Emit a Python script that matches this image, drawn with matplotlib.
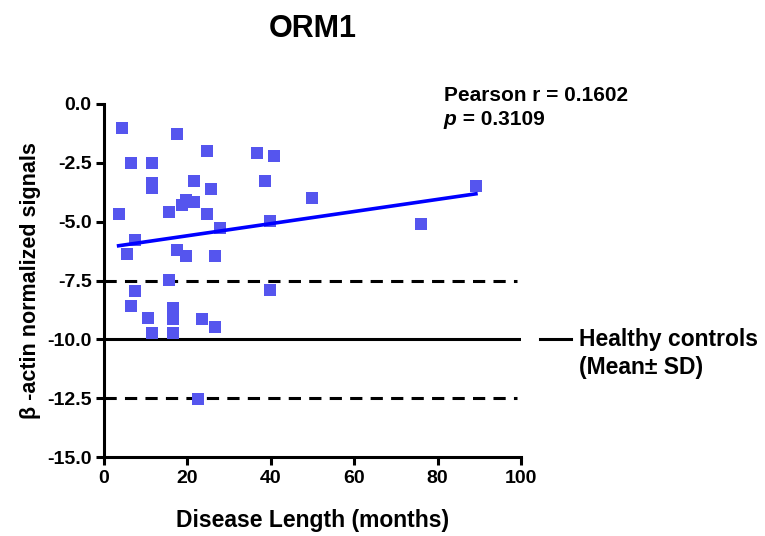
# ORM1 vs. disease length, scatter with linear fit and healthy-control band
import matplotlib.pyplot as plt
import numpy as np

# Disease length (months) and beta-actin normalized signals for each patient
months = [4.4, 17.5, 24.6, 36.7, 40.8, 6.4, 11.6, 21.6, 11.6, 11.6,
          38.7, 25.7, 49.8, 19.6, 18.6, 21.6, 3.5, 15.6, 24.6, 39.8,
          27.7, 7.5, 5.5, 17.5, 19.6, 26.7, 15.6, 7.5, 39.8, 6.4,
          10.5, 16.6, 16.6, 23.6, 26.7, 11.6, 16.6, 22.6, 89.2, 76.1]
signals = [-1.0, -1.29, -2.0, -2.1, -2.2, -2.49, -2.49, -3.29, -3.37, -3.58,
           -3.29, -3.6, -3.98, -4.08, -4.28, -4.18, -4.67, -4.6, -4.67, -4.96,
           -5.28, -5.77, -6.36, -6.18, -6.47, -6.47, -7.46, -7.95, -7.88, -8.56,
           -9.07, -8.66, -9.15, -9.15, -9.45, -9.72, -9.72, -12.54, -3.48, -5.09]

control_mean = -10.0
control_sd = 2.5
pearson_r = 0.1602
p_value = 0.3109

plt.rcParams["font.family"] = ["Liberation Sans", "DejaVu Sans"]
plt.rcParams["font.weight"] = "bold"

fig = plt.figure(figsize=(7.65, 5.36), dpi=100)
ax = fig.add_axes([0.136, 0.147, 0.545, 0.659])

x = np.array(months)
y = np.array(signals)

ax.plot(x, y, "s", color="#5555ee", markersize=8, markeredgewidth=0, zorder=3)

slope, intercept = np.polyfit(x, y, 1)
fit_x = np.array([x.min(), x.max()])
ax.plot(fit_x, slope * fit_x + intercept, color="#0000ff", linewidth=2.6, zorder=4)

ax.axhline(control_mean, color="black", linewidth=2.2, zorder=2)
for level in (control_mean - control_sd, control_mean + control_sd):
    ax.axhline(level, xmax=0.99, color="black", linewidth=2.2,
               dashes=(4, 2.7), zorder=2)

ax.set_xlim(0, 100)
ax.set_ylim(-15, 0)
ax.set_xticks(np.arange(0, 101, 20))
ax.set_yticks(np.arange(-15, 0.1, 2.5))
ax.yaxis.set_major_formatter(plt.FormatStrFormatter("%.1f"))

for side in ("top", "right"):
    ax.spines[side].set_visible(False)
for side in ("left", "bottom"):
    ax.spines[side].set_linewidth(2.2)
ax.tick_params(direction="out", length=6, width=2.2, labelsize=14, pad=3)
for label in ax.get_xticklabels() + ax.get_yticklabels():
    label.set_fontweight("bold")

ax.set_xlabel("Disease Length (months)", fontsize=16.5, fontweight="bold", labelpad=16)
ax.set_ylabel("\u03b2 -actin normalized signals", fontsize=15.5, fontweight="bold", labelpad=4)
ax.set_title("ORM1", fontsize=22, fontweight="bold", pad=48)

ax.text(0.815, 1.025, "Pearson r = %.4f" % pearson_r, transform=ax.transAxes,
        fontsize=15, fontweight="bold", ha="left", va="center")
p_text = ax.text(0.815, 0.957, "p", transform=ax.transAxes, fontsize=15,
                 fontweight="bold", fontstyle="italic", ha="left", va="center")
ax.annotate(" = %.4f" % p_value, xy=(1, 0.5), xycoords=p_text,
            fontsize=15, fontweight="bold", ha="left", va="center")

# legend entry for the healthy-control band, placed to the right of the axes
ax.plot([1.045, 1.12], [control_mean, control_mean], color="black", linewidth=2.2,
        transform=ax.get_yaxis_transform(), clip_on=False)
ax.text(1.14, control_mean, "Healthy controls", transform=ax.get_yaxis_transform(),
        fontsize=16.5, fontweight="bold", ha="left", va="center")
ax.text(1.14, control_mean - 1.2, "(Mean\u00b1 SD)", transform=ax.get_yaxis_transform(),
        fontsize=16.5, fontweight="bold", ha="left", va="center")

fig.savefig("out.png", dpi=100)
